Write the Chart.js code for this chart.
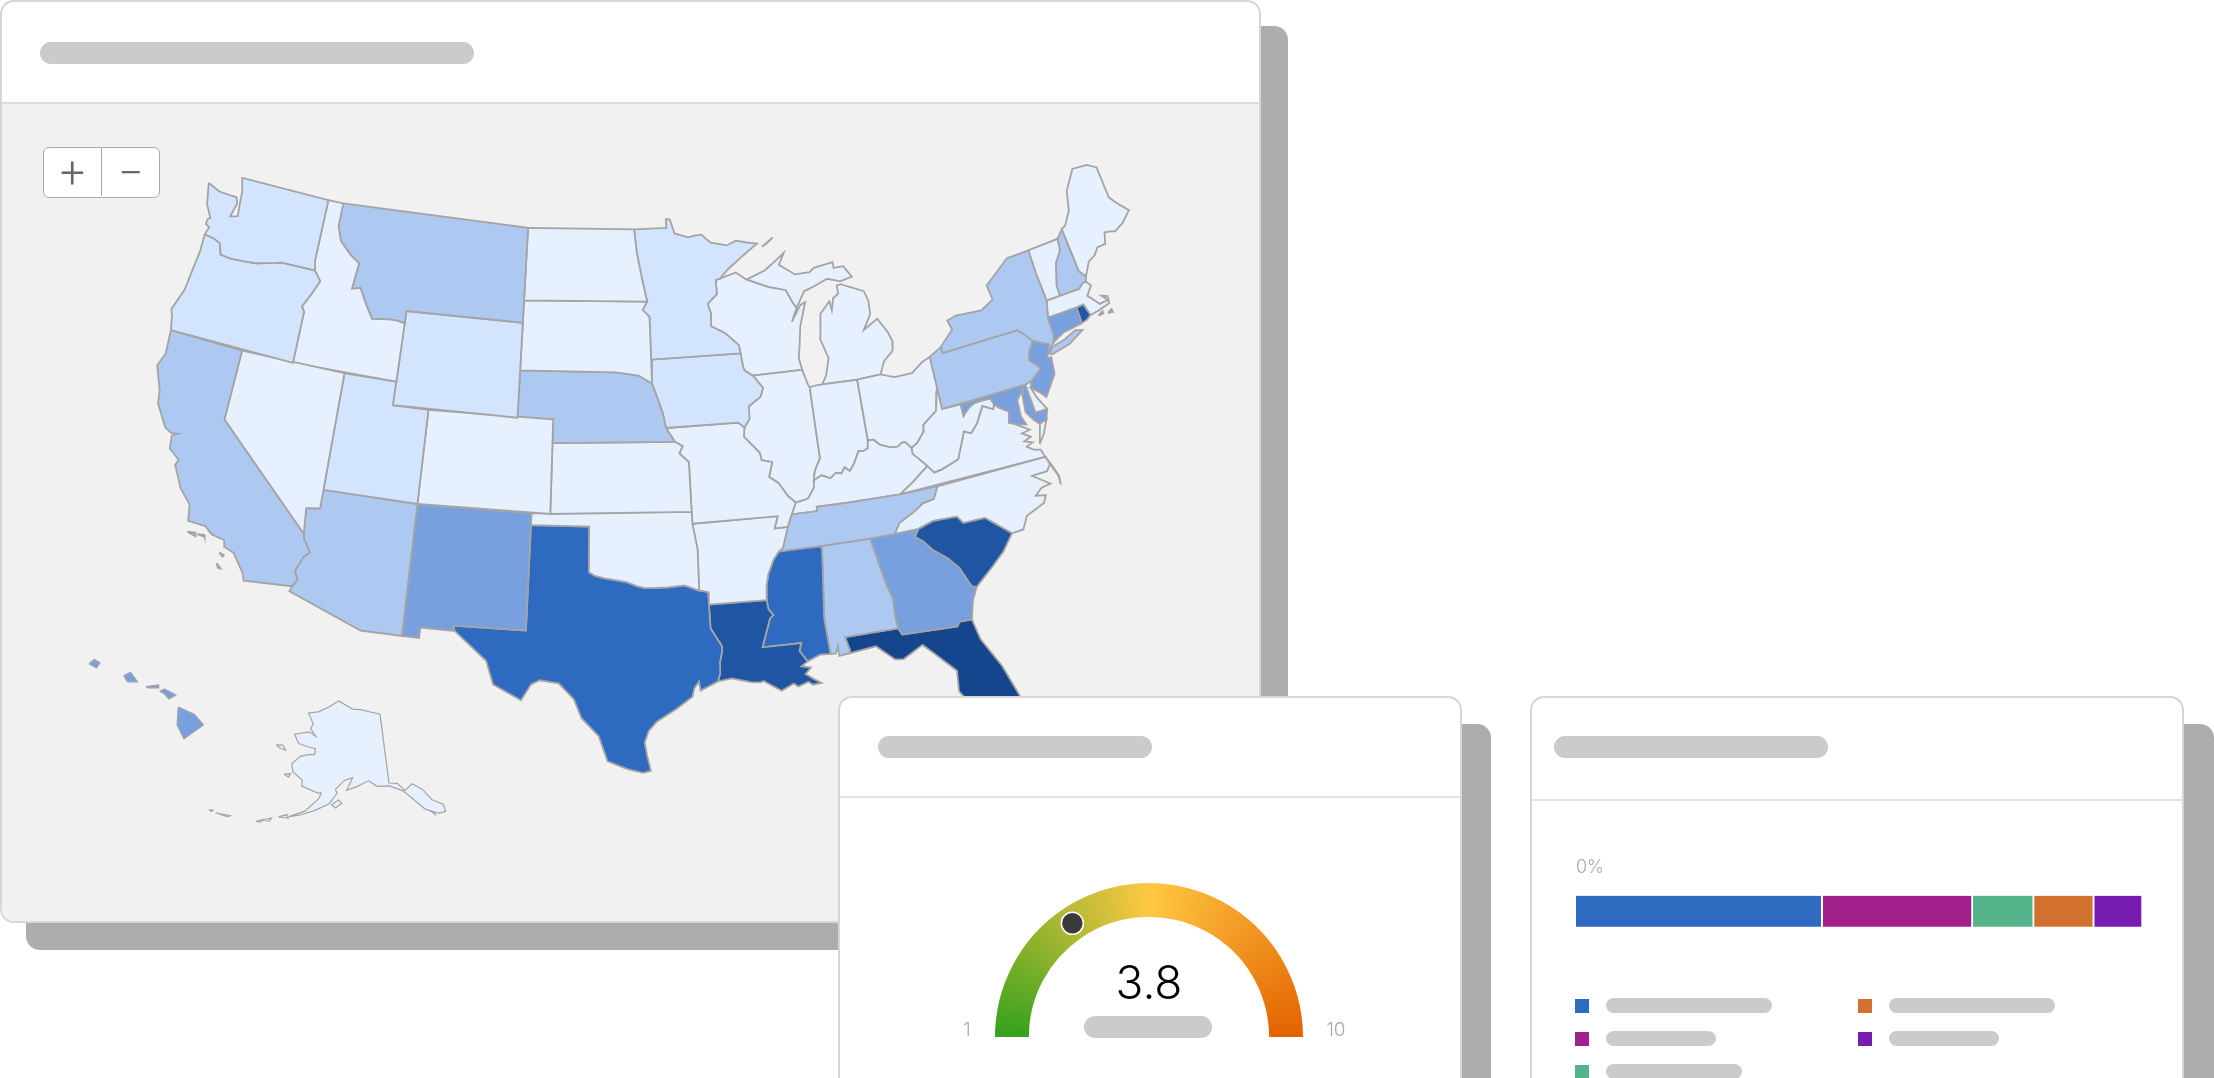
<!DOCTYPE html>
<html>
<head>
<meta charset="utf-8">
<script src="https://cdn.jsdelivr.net/npm/chart.js@4"></script>
<style>
  html, body { margin: 0; background: #fff; overflow: hidden; width: 2214px; height: 1078px; }
  .abs, canvas { position: absolute; }
  .shadow { position: absolute; background: #adadad; border-radius: 14px; }
  .card { position: absolute; background: #fff; border: 2px solid #d6d6d6; border-radius: 14px; box-sizing: border-box; overflow: hidden; }
  .rule { position: absolute; left: 0; right: 0; height: 2px; background: #e2e2e2; }
  .pill { position: absolute; background: #cbcbcb; border-radius: 11px; }
  .zoomctl { position: absolute; left: 43px; top: 147px; width: 117px; height: 51px; background: #fff; border: 1.5px solid #a9a9a9; border-radius: 6px; box-sizing: border-box; font: 300 44px/50px Roboto, sans-serif; color: #666; }
  .zoomctl span { position: absolute; top: 0; width: 57px; text-align: center; }
</style>
</head>
<body>
<div class="shadow" style="left:26px;top:26px;width:1262px;height:924px"></div>
<div class="card" style="left:0;top:0;width:1261px;height:923px">
  <div class="abs" style="left:0;top:102px;right:0;bottom:0;background:#f1f1f1"></div>
  <div class="rule" style="top:100px;background:#dcdcdc"></div>
  <div class="pill" style="left:38px;top:40px;width:434px;height:22px"></div>
</div>
<canvas id="mapChart" width="1261" height="923" style="left:0;top:0"></canvas>
<div class="zoomctl"><span style="left:0">+</span><span style="left:57px;border-left:1.5px solid #a9a9a9;height:48px">−</span></div>

<div class="shadow" style="left:866px;top:724px;width:625px;height:400px"></div>
<div class="card" style="left:838px;top:696px;width:624px;height:420px">
  <div class="rule" style="top:98px"></div>
  <div class="pill" style="left:38px;top:38px;width:274px;height:22px"></div>
</div>
<div class="pill" style="left:1084px;top:1016px;width:128px;height:22px"></div>
<canvas id="gaugeChart" width="480" height="200" style="left:909px;top:860px"></canvas>

<div class="shadow" style="left:1560px;top:724px;width:654px;height:400px;border-radius:14px 14px 0 0"></div>
<div class="card" style="left:1530px;top:696px;width:654px;height:420px">
  <div class="rule" style="top:101px"></div>
  <div class="pill" style="left:22px;top:38px;width:274px;height:22px"></div>
</div>
<canvas id="mixChart" width="570" height="79" style="left:1573px;top:854px"></canvas>
<div id="mixLegend"></div>

<script>
// state outlines as [lon, lat]
const outlineWA = [[-124.7,48.38],[-123.9,48.17],[-123.1,48.15],[-122.75,48.15],[-122.6,47.9],[-122.8,47.3],[-122.35,47.4],[-122.45,48.0],[-122.5,48.4],[-122.75,49],[-117.03,49],[-117.04,46.42],[-116.92,45.99],[-118.98,46],[-119.3,45.93],[-120.5,45.7],[-121.2,45.65],[-122,45.6],[-122.7,45.65],[-122.95,46.1],[-123.4,46.22],[-123.98,46.27],[-123.85,46.6],[-124.1,46.7],[-124.1,46.9],[-123.95,47],[-124.4,47.5]];
const outlineOR = [[-123.98,46.27],[-123.4,46.22],[-122.95,46.1],[-122.7,45.65],[-122,45.6],[-121.2,45.65],[-120.5,45.7],[-119.3,45.93],[-118.98,46],[-116.92,45.99],[-116.47,45.6],[-116.85,44.95],[-117.22,44.4],[-117.03,44.2],[-117.03,42],[-124.21,42],[-124.4,42.6],[-124.55,42.84],[-124.15,43.8],[-124.05,44.7],[-123.95,45.5]];
const outlineCA = [[-124.21,42],[-120,42],[-120,39],[-114.63,35],[-114.57,34.8],[-114.15,34.27],[-114.43,34.05],[-114.72,33.4],[-114.52,33.03],[-114.72,32.72],[-117.12,32.53],[-117.25,32.85],[-117.9,33.6],[-118.4,33.75],[-118.5,34.03],[-119.2,34.15],[-119.6,34.42],[-120.5,34.45],[-120.65,35.15],[-121.3,35.7],[-121.9,36.6],[-121.8,36.85],[-122.4,37.2],[-122.5,37.75],[-122.2,37.9],[-122.55,37.85],[-122.95,38],[-123.7,38.9],[-123.8,39.4],[-124.35,40.4],[-124.1,41]];
const outlineSantaRosa = [[-120.4,34],[-120,34.05],[-119.95,33.9]];
const outlineSantaCruz = [[-119.9,34],[-119.55,34.05],[-119.5,33.97]];
const outlineCatalina = [[-118.6,33.47],[-118.35,33.4],[-118.4,33.33]];
const outlineClemente = [[-118.6,33],[-118.35,32.82],[-118.5,32.82]];
const outlineNV = [[-120,42],[-114.04,42],[-114.04,36.2],[-114.75,36.1],[-114.63,35],[-120,39]];
const outlineID = [[-117.03,49],[-116.05,49],[-116.05,48],[-115.72,47.43],[-114.95,46.93],[-114.35,46.65],[-114.5,45.55],[-114,45.65],[-113.45,44.95],[-113,44.45],[-112,44.55],[-111.5,44.55],[-111.05,44.48],[-111.05,42],[-117.03,42],[-117.03,44.2],[-117.22,44.4],[-116.85,44.95],[-116.47,45.6],[-116.92,45.99],[-117.04,46.42]];
const outlineMT = [[-116.05,49],[-104.05,49],[-104.05,45],[-111.05,45],[-111.05,44.48],[-111.5,44.55],[-112,44.55],[-113,44.45],[-113.45,44.95],[-114,45.65],[-114.5,45.55],[-114.35,46.65],[-114.95,46.93],[-115.72,47.43],[-116.05,48]];
const outlineWY = [[-111.05,45],[-104.05,45],[-104.05,41],[-111.05,41]];
const outlineUT = [[-114.04,42],[-111.05,42],[-111.05,41],[-109.05,41],[-109.05,37],[-114.04,37]];
const outlineAZ = [[-114.04,37],[-109.05,37],[-109.05,31.33],[-111.07,31.33],[-114.81,32.49],[-114.72,32.72],[-114.52,33.03],[-114.72,33.4],[-114.43,34.05],[-114.15,34.27],[-114.57,34.8],[-114.63,35],[-114.75,36.1],[-114.04,36.2]];
const outlineCO = [[-109.05,41],[-102.05,41],[-102.05,37],[-109.05,37]];
const outlineNM = [[-109.05,37],[-103.04,37],[-103.04,36.5],[-103.06,32],[-106.62,32],[-106.53,31.78],[-108.21,31.78],[-108.21,31.33],[-109.05,31.33]];
const outlineND = [[-104.05,49],[-97.23,49],[-97.1,48],[-96.85,47],[-96.56,45.94],[-104.05,45.94]];
const outlineSD = [[-104.05,45.94],[-96.56,45.94],[-96.85,45.6],[-96.45,45.3],[-96.45,43.5],[-96.45,42.49],[-97.2,42.85],[-98.5,43],[-104.05,43]];
const outlineNE = [[-104.05,43],[-98.5,43],[-97.2,42.85],[-96.45,42.49],[-96.1,41.7],[-95.9,41.2],[-95.77,40.6],[-95.31,40],[-102.05,40],[-102.05,41],[-104.05,41]];
const outlineKS = [[-102.05,40],[-95.31,40],[-94.9,39.8],[-95.1,39.5],[-94.61,39.11],[-94.62,37],[-102.05,37]];
const outlineOK = [[-103.04,37],[-94.62,37],[-94.62,36.5],[-94.43,35.4],[-94.48,33.64],[-95.2,33.9],[-96,33.85],[-96.6,33.85],[-97.2,33.85],[-97.6,33.95],[-98.1,34.13],[-99.2,34.3],[-99.7,34.4],[-100,34.56],[-100,36.5],[-103.04,36.5]];
const outlineTX = [[-103.04,36.5],[-100,36.5],[-100,34.56],[-99.7,34.4],[-99.2,34.3],[-98.1,34.13],[-97.6,33.95],[-97.2,33.85],[-96.6,33.85],[-96,33.85],[-95.2,33.9],[-94.48,33.64],[-94.04,33.55],[-94.04,33.02],[-94.04,32],[-93.55,31.2],[-93.55,31],[-93.7,30.5],[-93.72,30.05],[-93.85,29.7],[-94.7,29.35],[-94.75,29.75],[-95,29.45],[-95.1,29.1],[-95.9,28.6],[-96.8,28.1],[-97.2,27.7],[-97.4,27.2],[-97.3,26.6],[-97.15,25.95],[-97.5,25.87],[-98.2,26.05],[-99.1,26.4],[-99.5,27.5],[-100.3,28.28],[-100.67,29.1],[-101.4,29.77],[-102.3,29.88],[-102.7,29.7],[-103.15,28.98],[-104.5,29.6],[-104.9,30.6],[-106.53,31.78],[-106.62,32],[-103.06,32]];
const outlineMN = [[-97.23,49],[-95.15,49],[-95.15,49.38],[-94.9,49.35],[-94.65,48.75],[-93.8,48.55],[-93.4,48.6],[-92.95,48.62],[-92.4,48.25],[-91.4,48.07],[-90.8,48.23],[-90.1,48.1],[-89.5,48],[-90.5,47.55],[-91.5,47.05],[-92.02,46.71],[-92.29,46.66],[-92.29,46.07],[-92.9,45.7],[-92.75,45.3],[-92.8,44.75],[-92,44.4],[-91.27,43.85],[-91.22,43.5],[-96.45,43.5],[-96.45,45.3],[-96.85,45.6],[-96.56,45.94],[-96.85,47],[-97.1,48]];
const outlineIA = [[-96.45,43.5],[-91.22,43.5],[-91.15,42.9],[-91.07,42.75],[-90.64,42.51],[-90.15,41.95],[-90.34,41.6],[-91.05,41.25],[-91.1,40.7],[-91.42,40.38],[-91.73,40.61],[-95.77,40.6],[-95.9,41.2],[-96.1,41.7],[-96.45,42.49]];
const outlineMO = [[-95.77,40.6],[-91.73,40.61],[-91.42,40.38],[-91.5,40],[-90.73,39.25],[-90.67,38.93],[-90.12,38.8],[-90.2,38.6],[-90.37,38.2],[-89.9,37.88],[-89.5,37.3],[-89.13,36.98],[-89.42,36.5],[-89.7,36],[-90.37,36],[-90.15,36.5],[-94.62,36.5],[-94.62,37],[-94.61,39.11],[-95.1,39.5],[-94.9,39.8],[-95.31,40]];
const outlineAR = [[-94.62,36.5],[-90.15,36.5],[-90.37,36],[-89.7,36],[-90.07,35.13],[-90.3,35],[-90.6,34.7],[-90.95,34.1],[-91.1,33.6],[-91.17,33],[-94.04,33.02],[-94.04,33.55],[-94.48,33.64],[-94.43,35.4]];
const outlineLA = [[-94.04,33.02],[-91.17,33],[-91.13,32.6],[-90.92,32.33],[-91.1,32.2],[-91.6,31],[-89.73,31],[-89.85,30.67],[-89.53,30.18],[-89.85,30],[-89.4,29.9],[-89.7,29.65],[-89.35,29.4],[-89,29.18],[-89.4,29.15],[-89.6,29.3],[-90.1,29.15],[-90.3,29.3],[-90.9,29.05],[-91.3,29.3],[-91.7,29.55],[-91.85,29.5],[-92.3,29.55],[-93.2,29.78],[-93.85,29.7],[-93.72,30.05],[-93.7,30.5],[-93.55,31],[-93.55,31.2],[-94.04,32]];
const outlinePontchartrain = [[-90.45,30.2],[-90,30.38],[-89.75,30.15],[-90.1,30.03]];
const outlineMS = [[-90.3,35],[-88.2,35],[-88.1,34.9],[-88.47,31.9],[-88.4,30.37],[-88.9,30.4],[-89.53,30.18],[-89.85,30.67],[-89.73,31],[-91.6,31],[-91.1,32.2],[-90.92,32.33],[-91.13,32.6],[-91.17,33],[-91.1,33.6],[-90.95,34.1],[-90.6,34.7]];
const outlineAL = [[-88.2,35],[-85.6,34.98],[-85.18,32.87],[-85,32.3],[-85.05,31.55],[-85,31],[-87.6,31],[-87.45,30.4],[-87.52,30.28],[-88,30.23],[-88,30.65],[-88.15,30.35],[-88.4,30.37],[-88.47,31.9],[-88.1,34.9]];
const outlineGA = [[-85.6,34.98],[-83.11,35],[-83.35,34.7],[-83,34.45],[-82.6,34],[-81.95,33.5],[-81.5,33],[-81.1,32.1],[-80.88,32.03],[-81.2,31.5],[-81.45,30.72],[-82.05,30.75],[-82.2,30.57],[-84.86,30.7],[-85,31],[-85.05,31.55],[-85,32.3],[-85.18,32.87]];
const outlineFL = [[-87.6,31],[-85,31],[-84.86,30.7],[-82.2,30.57],[-82.05,30.75],[-81.45,30.72],[-81.25,29.8],[-80.55,28.45],[-80.05,26.9],[-80.13,25.8],[-80.4,25.2],[-81.1,25.13],[-81.8,26.1],[-82.2,26.9],[-82.75,27.8],[-82.65,28.7],[-83.4,29.5],[-84,30.1],[-85,29.65],[-85.4,29.7],[-86.2,30.4],[-87.52,30.28],[-87.45,30.4]];
const outlineSC = [[-83.35,34.7],[-83.11,35],[-82.3,35.2],[-81.05,35.15],[-80.8,34.82],[-79.67,34.8],[-78.55,33.86],[-79.2,33.2],[-79.9,32.7],[-80.88,32.03],[-81.1,32.1],[-81.5,33],[-81.95,33.5],[-82.6,34],[-83,34.45]];
const outlineNC = [[-84.32,34.99],[-83.11,35],[-82.3,35.2],[-81.05,35.15],[-80.8,34.82],[-79.67,34.8],[-78.55,33.86],[-77.95,33.88],[-77.6,34.4],[-76.6,34.7],[-76.4,35],[-76.9,35.1],[-76.5,35.35],[-76,35.4],[-76.8,35.95],[-76,35.95],[-75.75,36.2],[-75.87,36.55],[-81.68,36.59],[-82,36.1],[-82.6,36.03],[-83.1,35.77],[-84,35.4]];
const outlineOuterBanks = [[-75.87,36.55],[-75.75,36.2],[-75.5,35.6],[-75.52,35.22],[-75.47,35.6],[-75.7,36.2]];
const outlineTN = [[-90.3,35],[-88.2,35],[-85.6,34.98],[-84.32,34.99],[-84,35.4],[-83.1,35.77],[-82.6,36.03],[-82,36.1],[-81.68,36.59],[-83.68,36.6],[-86.5,36.65],[-88.07,36.68],[-88.07,36.5],[-89.42,36.5],[-89.7,36],[-90.07,35.13]];
const outlineKY = [[-89.42,36.5],[-88.07,36.5],[-88.07,36.68],[-86.5,36.65],[-83.68,36.6],[-82.9,37],[-81.97,37.54],[-82.6,38.17],[-82.59,38.42],[-82.85,38.72],[-83.03,38.73],[-83.3,38.6],[-83.67,38.63],[-84.23,38.83],[-84.51,39.09],[-84.82,39.1],[-84.9,38.78],[-85.17,38.69],[-85.42,38.73],[-85.75,38.27],[-86.05,37.96],[-86.3,38.15],[-86.52,37.92],[-86.82,37.98],[-87.13,37.79],[-87.58,37.97],[-88.03,37.8],[-88.07,37.5],[-88.47,37.07],[-89.13,36.98]];
const outlineWV = [[-80.52,40.64],[-80.52,39.72],[-79.48,39.72],[-79.48,39.2],[-79.1,39.47],[-78.75,39.6],[-78.4,39.62],[-77.83,39.6],[-77.72,39.32],[-77.83,39.14],[-78.35,39.4],[-78.87,38.76],[-79.3,38.42],[-79.65,38.58],[-80.3,37.5],[-81.25,37.25],[-81.68,37.2],[-81.97,37.54],[-82.6,38.17],[-82.59,38.42],[-82.2,38.6],[-81.75,39],[-81.7,39.26],[-81.45,39.4],[-80.87,39.7],[-80.73,40.08],[-80.63,40.39]];
const outlineVA = [[-83.68,36.6],[-75.87,36.55],[-76,36.9],[-76.35,37],[-76.65,37.2],[-76.3,37.3],[-76.7,37.45],[-76.3,37.55],[-76.7,37.8],[-76.25,37.85],[-76.95,38.28],[-77.25,38.4],[-77.05,38.85],[-77.5,39.12],[-77.72,39.32],[-77.83,39.14],[-78.35,39.4],[-78.87,38.76],[-79.3,38.42],[-79.65,38.58],[-80.3,37.5],[-81.25,37.25],[-81.68,37.2],[-81.97,37.54],[-82.9,37]];
const outlineVAshore = [[-75.95,37.15],[-75.65,37.95],[-75.25,38.03],[-75.6,37.5]];
const outlineOH = [[-84.8,41.7],[-83.45,41.73],[-82.7,41.5],[-81.7,41.5],[-81,41.85],[-80.52,41.98],[-80.52,40.64],[-80.63,40.39],[-80.73,40.08],[-80.87,39.7],[-81.45,39.4],[-81.7,39.26],[-81.75,39],[-82.2,38.6],[-82.59,38.42],[-82.85,38.72],[-83.03,38.73],[-83.3,38.6],[-83.67,38.63],[-84.23,38.83],[-84.51,39.09],[-84.82,39.1]];
const outlineIN = [[-87.52,41.71],[-87.2,41.75],[-86.8,41.76],[-84.8,41.7],[-84.82,39.1],[-84.9,38.78],[-85.17,38.69],[-85.42,38.73],[-85.75,38.27],[-86.05,37.96],[-86.3,38.15],[-86.52,37.92],[-86.82,37.98],[-87.13,37.79],[-87.58,37.97],[-88.03,37.8],[-87.9,38.2],[-87.53,38.7],[-87.53,39.35]];
const outlineIL = [[-90.64,42.51],[-87.8,42.49],[-87.6,41.85],[-87.52,41.71],[-87.53,39.35],[-87.53,38.7],[-87.9,38.2],[-88.03,37.8],[-88.07,37.5],[-88.47,37.07],[-89.13,36.98],[-89.5,37.3],[-89.9,37.88],[-90.37,38.2],[-90.2,38.6],[-90.12,38.8],[-90.67,38.93],[-90.73,39.25],[-91.5,40],[-91.42,40.38],[-91.1,40.7],[-91.05,41.25],[-90.34,41.6],[-90.15,41.95]];
const outlineWI = [[-92.02,46.71],[-91,46.9],[-90.4,46.55],[-89.1,46.13],[-88.1,45.9],[-87.8,45.35],[-87.6,45.1],[-88,44.55],[-87.35,45.2],[-87.05,45.28],[-87.55,44.3],[-87.75,43.5],[-87.9,43],[-87.8,42.49],[-90.64,42.51],[-91.07,42.75],[-91.15,42.9],[-91.22,43.5],[-91.27,43.85],[-92,44.4],[-92.8,44.75],[-92.75,45.3],[-92.9,45.7],[-92.29,46.07],[-92.29,46.66]];
const outlineMIlower = [[-86.8,41.76],[-86.5,42.1],[-86.2,42.8],[-86.5,43.65],[-86.25,44.7],[-85.6,45.15],[-85.55,44.75],[-85.35,45.25],[-85,45.4],[-85,45.75],[-84.75,45.78],[-83.45,45.3],[-83.3,44.85],[-83.35,44.3],[-83.9,43.7],[-83,44.05],[-82.55,43.4],[-82.4,43],[-82.5,42.6],[-83.1,42.25],[-83.45,41.73],[-84.8,41.7]];
const outlineMIupper = [[-90.4,46.55],[-89.2,46.85],[-88.45,47.2],[-87.9,47.47],[-88.3,47],[-87.4,46.5],[-86.5,46.5],[-86.2,46.65],[-85,46.75],[-85,46.5],[-84.4,46.5],[-84,46],[-84.75,45.9],[-85.5,46.1],[-86.5,45.85],[-87,45.75],[-87.6,45.1],[-87.8,45.35],[-88.1,45.9],[-89.1,46.13]];
const outlineIsleRoyale = [[-89.2,47.85],[-88.45,48.17],[-88.9,47.95]];
const outlineNY = [[-79.76,42.27],[-79.76,42],[-75.35,42],[-75.05,41.75],[-74.7,41.36],[-73.9,41],[-74.03,40.7],[-73.65,41],[-73.5,41.3],[-73.5,42.05],[-73.26,42.75],[-73.35,44],[-73.35,45],[-74.7,45],[-75.5,44.6],[-76.3,44.2],[-76.2,43.55],[-77,43.27],[-78.5,43.37],[-79.05,43.27],[-78.9,42.85]];
const outlineLongIsland = [[-74.03,40.6],[-73.75,40.85],[-73,40.95],[-72.3,41.15],[-71.9,41.05],[-72.8,40.7],[-73.9,40.55]];
const outlinePA = [[-80.52,41.98],[-79.76,42.27],[-79.76,42],[-75.35,42],[-75.05,41.75],[-74.7,41.36],[-75.1,40.95],[-75.2,40.65],[-74.72,40.15],[-75.4,39.8],[-75.79,39.72],[-80.52,39.72]];
const outlineNJ = [[-74.7,41.36],[-73.9,41],[-74.03,40.7],[-74.25,40.48],[-74,40.45],[-74.1,39.75],[-74.9,38.93],[-75.15,39.2],[-75.55,39.5],[-75.4,39.8],[-74.72,40.15],[-75.2,40.65],[-75.1,40.95]];
const outlineDE = [[-75.79,39.72],[-75.4,39.8],[-75.55,39.5],[-75.4,39.05],[-75.05,38.45],[-75.7,38.46]];
const outlineMD = [[-79.48,39.72],[-75.79,39.72],[-75.7,38.46],[-75.05,38.45],[-75.25,38.03],[-75.65,37.95],[-75.9,38.2],[-76.2,38.6],[-76.1,39.4],[-76,39.55],[-76.45,39.2],[-76.5,38.5],[-76.35,38.1],[-76.95,38.28],[-77.25,38.4],[-77.05,38.85],[-77.5,39.12],[-77.72,39.32],[-77.83,39.6],[-78.4,39.62],[-78.75,39.6],[-79.1,39.47],[-79.48,39.2]];
const outlineCT = [[-73.5,42.05],[-71.8,42.02],[-71.8,41.42],[-71.86,41.32],[-72.9,41.25],[-73.65,41],[-73.5,41.3]];
const outlineRI = [[-71.8,42.02],[-71.38,42.02],[-71.2,41.5],[-71.5,41.37],[-71.86,41.32],[-71.8,41.42]];
const outlineMA = [[-73.5,42.05],[-73.26,42.75],[-71.3,42.7],[-71,42.87],[-70.8,42.87],[-70.6,42.65],[-71,42.3],[-70.65,41.95],[-70.5,41.78],[-70,41.8],[-70.25,42.07],[-69.95,41.95],[-70,41.65],[-70.65,41.55],[-71.2,41.5],[-71.38,42.02],[-71.8,42.02]];
const outlineVineyard = [[-70.8,41.35],[-70.5,41.45],[-70.5,41.35]];
const outlineNantucket = [[-70.25,41.3],[-70,41.38],[-69.97,41.25]];
const outlineVT = [[-73.35,45],[-71.5,45],[-71.6,44.5],[-72.05,44.1],[-72.45,43.2],[-72.46,42.73],[-73.26,42.75],[-73.35,44]];
const outlineNH = [[-71.5,45],[-71.08,45.3],[-70.98,43.4],[-70.7,43.07],[-70.8,42.87],[-71,42.87],[-71.3,42.7],[-72.46,42.73],[-72.45,43.2],[-72.05,44.1],[-71.6,44.5]];
const outlineME = [[-71.08,45.3],[-70.8,45.4],[-70.3,45.9],[-70,46.7],[-69.2,47.45],[-68.3,47.35],[-67.8,47.07],[-67.8,45.7],[-67.45,45.3],[-67,44.85],[-67.6,44.5],[-68.2,44.3],[-68.5,44.4],[-68.8,44.45],[-69,44],[-69.5,44],[-69.8,43.75],[-70.25,43.6],[-70.7,43.07],[-70.98,43.4]];
const outlineAK = [[-141,69.65],[-144,70],[-148,70.4],[-151,70.45],[-156.5,71.35],[-160,70.3],[-163,69.4],[-166.2,68.9],[-163.5,67.6],[-164,67],[-161.8,66.1],[-164,66.5],[-168.1,65.6],[-166,64.6],[-163,64.5],[-161,64.5],[-160.8,63.7],[-162.5,63.5],[-164.5,63],[-166,61.7],[-165,60.7],[-162.3,60],[-162,59.2],[-158,58.7],[-157.2,58.8],[-157.5,58],[-160,56],[-163,54.8],[-161,55.3],[-158,56.3],[-155,57.5],[-153.5,59],[-154,59.5],[-152,60.8],[-150,61.2],[-151.3,59.5],[-149,60],[-146,60.8],[-144,60],[-141,59.9],[-138,59],[-136.5,58],[-134,56],[-131.5,55],[-130,55],[-130,56],[-132,57],[-133.5,58.7],[-135.5,59.7],[-137.5,59],[-139,60.1],[-141,60.3]];
const outlineKodiak = [[-154.5,57.4],[-153,58.1],[-152.2,57.7],[-153.5,57]];
const outlineUnimak = [[-165,54.4],[-163.5,55],[-163,54.6]];
const outlineUnalaska = [[-168,53.3],[-166.3,54],[-166.5,53.5]];
const outlineUmnak = [[-169,52.9],[-167.9,53.4],[-168.1,53]];
const outlineAtka = [[-176.8,51.8],[-174,52.3],[-174.5,52]];
const outlineTanaga = [[-178.2,51.7],[-177.5,51.95],[-177.6,51.7]];
const outlineNunivak = [[-167,60.1],[-165.5,60.4],[-165.7,59.9]];
const outlineStLawrence = [[-171.7,63.4],[-170,63.7],[-168.8,63.2],[-170.5,63.2]];
const outlineBaranof = [[-136,58],[-135,57],[-134.8,57.6]];
const outlinePrinceWales = [[-133.8,56.2],[-132.3,55],[-132.6,56]];
const outlineKauai = [[-159.78,22.05],[-159.55,22.23],[-159.3,22.1],[-159.45,21.88]];
const outlineOahu = [[-158.27,21.55],[-157.97,21.7],[-157.67,21.3],[-158.1,21.3]];
const outlineMolokai = [[-157.3,21.1],[-156.75,21.17],[-156.75,21.05],[-157.2,21.05]];
const outlineMaui = [[-156.7,20.9],[-156.5,21],[-156,20.75],[-156.3,20.58],[-156.5,20.8]];
const outlineBigIsland = [[-155.9,20.25],[-155.2,19.95],[-154.8,19.5],[-155.65,18.92],[-155.95,19.5]];

// shade step per outline, 0 lightest to 6 darkest, 7 is water
const mainlandShapes = [[outlineWA,1],[outlineOR,1],[outlineCA,2],[outlineSantaRosa,2],[outlineSantaCruz,2],[outlineCatalina,2],[outlineClemente,2],[outlineNV,0],[outlineID,0],[outlineMT,2],[outlineWY,1],[outlineUT,1],[outlineAZ,2],[outlineCO,0],[outlineNM,3],[outlineND,0],[outlineSD,0],[outlineNE,2],[outlineKS,0],[outlineOK,0],[outlineTX,4],[outlineMN,1],[outlineIA,1],[outlineMO,0],[outlineAR,0],[outlineLA,5],[outlinePontchartrain,7],[outlineMS,4],[outlineAL,2],[outlineGA,3],[outlineFL,6],[outlineSC,5],[outlineNC,0],[outlineOuterBanks,0],[outlineTN,2],[outlineKY,0],[outlineWV,0],[outlineVA,0],[outlineVAshore,0],[outlineOH,0],[outlineIN,0],[outlineIL,0],[outlineWI,0],[outlineMIlower,0],[outlineMIupper,0],[outlineIsleRoyale,0],[outlineNY,2],[outlineLongIsland,2],[outlinePA,2],[outlineNJ,3],[outlineDE,0],[outlineMD,3],[outlineCT,3],[outlineRI,5],[outlineMA,0],[outlineVineyard,0],[outlineNantucket,0],[outlineVT,0],[outlineNH,2],[outlineME,0]];
const alaskaShapes = [[outlineAK,0],[outlineKodiak,0],[outlineUnimak,0],[outlineUnalaska,0],[outlineUmnak,0],[outlineAtka,0],[outlineTanaga,0],[outlineNunivak,0],[outlineStLawrence,0],[outlineBaranof,0],[outlinePrinceWales,0]];
const hawaiiShapes = [[outlineKauai,3],[outlineOahu,3],[outlineMolokai,3],[outlineMaui,3],[outlineBigIsland,3]];
const shadeColors = ["#e6f0fe", "#d3e4fe", "#aec9f1", "#78a0de", "#2d6ac0", "#2055a3", "#15458c", "#f0f0f0"];

const gaugeMin = 1;
const gaugeMax = 10;
const gaugeValue = 3.8;

const mixValues = [43.5, 26.5, 10.8, 10.6, 8.6];
const mixColors = ["#2d6ac0", "#a2208c", "#54b58c", "#d2702f", "#761cb0"];

const rad = Math.PI / 180;

// conic projection, fitted to the lower 48 on the reference
function projectMainland([lon, lat]) {
  const n = 0.707;
  const r = Math.sqrt(1.5 - 2 * n * Math.sin(lat * rad)) / n;
  const t = n * (lon + 99.5) * rad;
  // the north east sits a little higher on the reference
  const east = Math.max(0, lon + 85);
  return {
    x: 598.8 + 1354 * r * Math.sin(t),
    y: -1039.5 + 1364 * r * Math.cos(t) - 0.03 * east * east,
  };
}

function projectAlaska([lon, lat]) {
  const r = 90 - lat;
  const t = (lon + 148) * rad;
  return { x: 360.5 + 7.87 * r * Math.sin(t), y: 564 + 7.43 * r * Math.cos(t) };
}

function projectHawaii([lon, lat]) {
  return { x: 187.4 + 23 * (lon + 155.5), y: 722.6 - 24 * (lat - 19.6) };
}

function shapeDataset([outline, shade], project, lineWidth) {
  const points = outline.map(project);
  points.push(points[0]);
  return {
    data: points,
    showLine: true,
    fill: "shape",
    tension: 0,
    pointRadius: 0,
    borderWidth: lineWidth,
    borderColor: "#a4a4a4",
    backgroundColor: shadeColors[shade],
  };
}

new Chart(document.getElementById("mapChart"), {
  type: "scatter",
  data: {
    datasets: [
      ...mainlandShapes.map((s) => shapeDataset(s, projectMainland, 1.8)),
      ...alaskaShapes.map((s) => shapeDataset(s, projectAlaska, 1.2)),
      ...hawaiiShapes.map((s) => shapeDataset(s, projectHawaii, 1.2)),
    ],
  },
  options: {
    responsive: false,
    animation: false,
    events: [],
    plugins: { legend: { display: false }, tooltip: { enabled: false } },
    scales: {
      x: { type: "linear", display: false, min: 0, max: 1261 },
      y: { type: "linear", display: false, min: 0, max: 923, reverse: true },
    },
  },
});

// marker and the value labels of the gauge
const gaugeMarks = {
  id: "gaugeMarks",
  afterDatasetsDraw(chart) {
    const { ctx, chartArea } = chart;
    const arc = chart.getDatasetMeta(0).data[0];
    const r = (arc.innerRadius + arc.outerRadius) / 2;
    ctx.save();
    ctx.beginPath();
    ctx.arc(arc.x + r * Math.cos(arc.endAngle), arc.y + r * Math.sin(arc.endAngle), 11, 0, 2 * Math.PI);
    ctx.fillStyle = "#3a3a3a";
    ctx.fill();
    ctx.lineWidth = 1.5;
    ctx.strokeStyle = "#fff";
    ctx.stroke();
    ctx.textAlign = "center";
    ctx.textBaseline = "middle";
    ctx.fillStyle = "#000";
    ctx.font = "300 46px Inter, sans-serif";
    ctx.fillText(String(gaugeValue), arc.x, arc.y - 52);
    ctx.fillStyle = "#aaa";
    ctx.font = "300 19px Inter, sans-serif";
    ctx.fillText(String(gaugeMin), chartArea.left - 28, arc.y - 7);
    ctx.fillText(String(gaugeMax), chartArea.right + 33, arc.y - 7);
    ctx.restore();
  },
};

function gaugeFill(context) {
  const { ctx, chartArea } = context.chart;
  if (!chartArea) return "#ffc842";
  const g = ctx.createConicGradient(Math.PI, (chartArea.left + chartArea.right) / 2, chartArea.bottom);
  g.addColorStop(0, "#35a11d");
  g.addColorStop(0.25, "#ffc842");
  g.addColorStop(0.5, "#e36200");
  g.addColorStop(1, "#35a11d");
  return g;
}

new Chart(document.getElementById("gaugeChart"), {
  type: "doughnut",
  data: {
    datasets: [
      {
        data: [gaugeValue - gaugeMin, gaugeMax - gaugeValue],
        backgroundColor: gaugeFill,
        borderWidth: 0,
      },
    ],
  },
  options: {
    responsive: false,
    animation: false,
    events: [],
    rotation: -90,
    circumference: 180,
    cutout: "78%",
    layout: { padding: { left: 86, right: 86, top: 23, bottom: 23 } },
    plugins: { legend: { display: false }, tooltip: { enabled: false } },
  },
  plugins: [gaugeMarks],
});

new Chart(document.getElementById("mixChart"), {
  type: "bar",
  data: {
    labels: [""],
    datasets: mixValues.map((v, i) => ({
      data: [v],
      backgroundColor: mixColors[i],
      borderColor: "#fff",
      borderWidth: { left: 0, top: 0, bottom: 0, right: 2 },
      borderSkipped: false,
      barThickness: 31,
    })),
  },
  options: {
    indexAxis: "y",
    responsive: false,
    animation: false,
    events: [],
    plugins: { legend: { display: false }, tooltip: { enabled: false } },
    scales: {
      x: {
        stacked: true,
        position: "top",
        min: 0,
        max: 100,
        grid: { display: false },
        border: { display: false },
        afterBuildTicks: (axis) => { axis.ticks = [{ value: 0 }]; },
        ticks: {
          align: "start",
          maxRotation: 0,
          callback: (v) => v + "%",
          color: "#aaa",
          font: { family: "Inter, sans-serif", size: 18, weight: 300 },
        },
      },
      y: { stacked: true, display: false },
    },
  },
});

// legend, the names are greyed out in the reference
const legendSlots = [
  [1575, 999, 166], [1575, 1032, 110], [1575, 1065, 136],
  [1858, 999, 166], [1858, 1032, 110],
];
const legend = document.getElementById("mixLegend");
legendSlots.forEach(([x, y, w], i) => {
  legend.insertAdjacentHTML("beforeend",
    `<div class="abs" style="left:${x}px;top:${y}px;width:14px;height:14px;background:${mixColors[i]}"></div>` +
    `<div class="pill" style="left:${x + 31}px;top:${y - 1}px;width:${w}px;height:15px;border-radius:8px"></div>`);
});
</script>
</body>
</html>
